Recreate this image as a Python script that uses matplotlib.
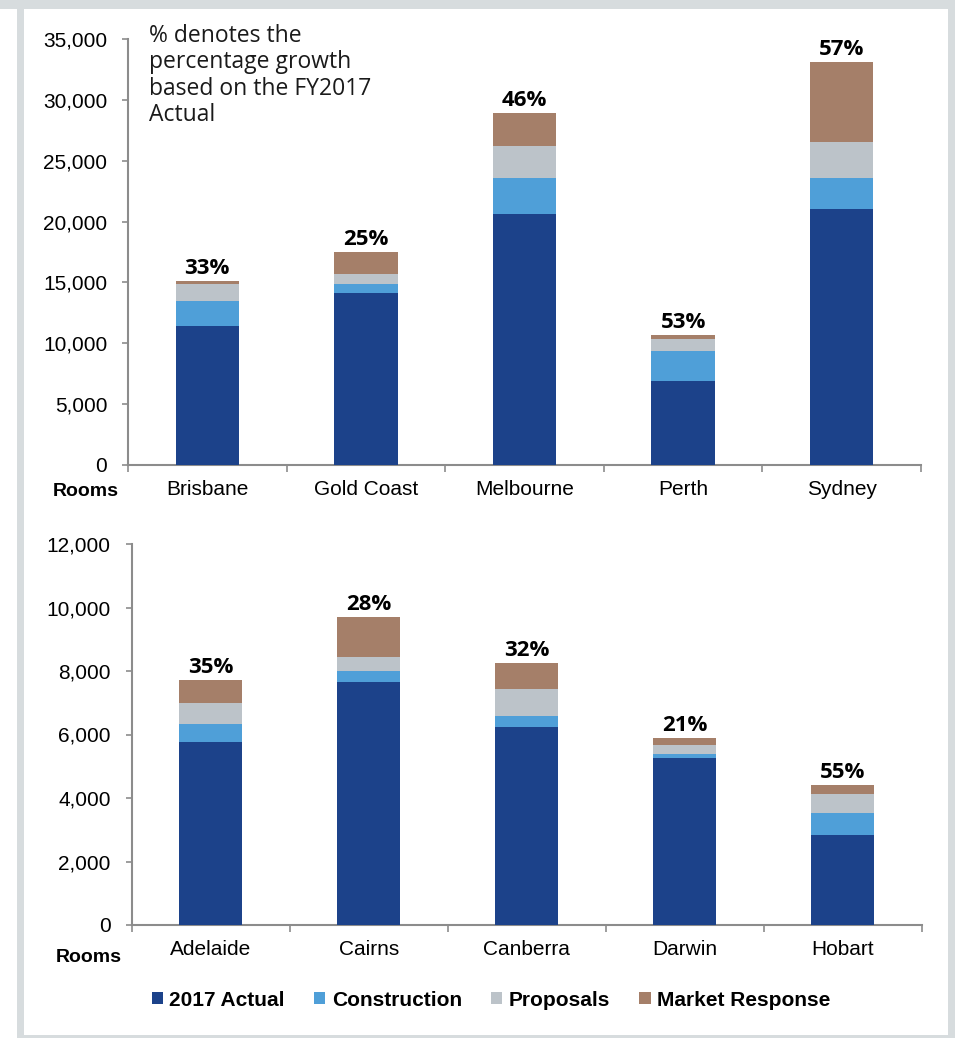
import matplotlib
matplotlib.use("Agg")
import matplotlib.pyplot as plt
import numpy as np
from matplotlib.patches import Patch, Rectangle

# ---------------- data ----------------
top_cities = ["Brisbane", "Gold Coast", "Melbourne", "Perth", "Sydney"]
top_actual = [11380, 14130, 20600, 6930, 21000]
top_construction = [2060, 740, 3000, 2400, 2600]
top_proposals = [1430, 800, 2600, 990, 2900]
top_market = [220, 1800, 2700, 330, 6630]
top_growth = ["33%", "25%", "46%", "53%", "57%"]

bot_cities = ["Adelaide", "Cairns", "Canberra", "Darwin", "Hobart"]
bot_actual = [5760, 7650, 6250, 5270, 2850]
bot_construction = [560, 350, 345, 125, 670]
bot_proposals = [660, 430, 840, 275, 620]
bot_market = [735, 1260, 810, 230, 270]
bot_growth = ["35%", "28%", "32%", "21%", "55%"]

series_names = ["2017 Actual", "Construction", "Proposals", "Market Response"]
colors = ["#1c428a", "#4f9fd8", "#bcc3c9", "#a57f69"]

top_ticks = [0, 5000, 10000, 15000, 20000, 25000, 30000, 35000]
bot_ticks = [0, 2000, 4000, 6000, 8000, 10000, 12000]

# ---------------- figure ----------------
W, H = 955, 1038
fig = plt.figure(figsize=(W / 100, H / 100), dpi=100)
fig.patch.set_facecolor("white")

# frame
fig.add_artist(Rectangle((0, 1 - 9 / H), 1, 9 / H, transform=fig.transFigure,
                         facecolor="#d7dcde", edgecolor="none", zorder=-5))
fig.add_artist(Rectangle((17 / W, 0), (W - 17) / W, 1, transform=fig.transFigure,
                         facecolor="#d7dcde", edgecolor="none", zorder=-6))
fig.add_artist(Rectangle((24 / W, 3 / H), (948 - 24) / W, (1029 - 3) / H,
                         transform=fig.transFigure, facecolor="white",
                         edgecolor="none", zorder=-4))

AX_COL = "#8c8c8c"
TICK_FONT = "Liberation Sans"
PCT_FONT = "Open Sans"


def px_axes(l, t, r, b):
    return fig.add_axes([l / W, 1 - b / H, (r - l) / W, (b - t) / H])


def draw(ax, cities, layers, growth, ticks):
    x = np.arange(len(cities))
    bottom = np.zeros(len(cities))
    for vals, c in zip(layers, colors):
        ax.bar(x, vals, bottom=bottom, width=0.4, color=c, edgecolor="none", zorder=3)
        bottom = bottom + np.array(vals)
    for xi, tot, g in zip(x, bottom, growth):
        ax.annotate(g, (xi, tot), xytext=(0, 1.5), textcoords="offset points",
                    ha="center", va="bottom", fontsize=16, fontweight="bold",
                    family=PCT_FONT, color="black")
    ax.set_xlim(-0.5, len(cities) - 0.5)
    ax.set_ylim(0, ticks[-1])
    ax.set_yticks(ticks)
    ax.set_yticklabels([f"{t:,}" for t in ticks], family=TICK_FONT, fontsize=15)
    ax.set_xticks(np.arange(-0.5, len(cities), 1.0))
    ax.set_xticklabels([])
    ax.set_xticks(x, minor=True)
    ax.set_xticklabels(cities, minor=True, family=TICK_FONT, fontsize=15)
    ax.tick_params(axis="x", which="major", length=5, color=AX_COL, width=1.2)
    ax.tick_params(axis="x", which="minor", length=0, pad=11)
    ax.tick_params(axis="y", length=4, color=AX_COL, width=1.2, pad=11)
    for s in ["top", "right"]:
        ax.spines[s].set_visible(False)
    for s in ["left", "bottom"]:
        ax.spines[s].set_color(AX_COL)
        ax.spines[s].set_linewidth(1.5)


ax1 = px_axes(128, 39, 921, 465)
draw(ax1, top_cities, [top_actual, top_construction, top_proposals, top_market],
     top_growth, top_ticks)
ax2 = px_axes(131.7, 544, 921.7, 925)
draw(ax2, bot_cities, [bot_actual, bot_construction, bot_proposals, bot_market],
     bot_growth, bot_ticks)

fig.text(86 / W, 1 - 491 / H, "Rooms", ha="center", va="center",
         family=TICK_FONT, fontweight="bold", fontsize=14)
fig.text(89 / W, 1 - 957 / H, "Rooms", ha="center", va="center",
         family=TICK_FONT, fontweight="bold", fontsize=14)

fig.text(149 / W, 1 - 24 / H,
         "% denotes the\npercentage growth\nbased on the FY2017\nActual",
         ha="left", va="top", family=PCT_FONT, fontsize=16.5, linespacing=1.13,
         color="#1a1a1a")

handles = [Patch(facecolor=c, edgecolor="none") for c in colors]
fig.legend(handles, series_names, loc="center", bbox_to_anchor=(491 / W, 1 - 1000 / H),
           ncol=4, frameon=False, handlelength=0.55, handleheight=0.55,
           handletextpad=0.3, columnspacing=1.4,
           prop={"family": TICK_FONT, "weight": "bold", "size": 15})

fig.savefig("out.png", dpi=100)
